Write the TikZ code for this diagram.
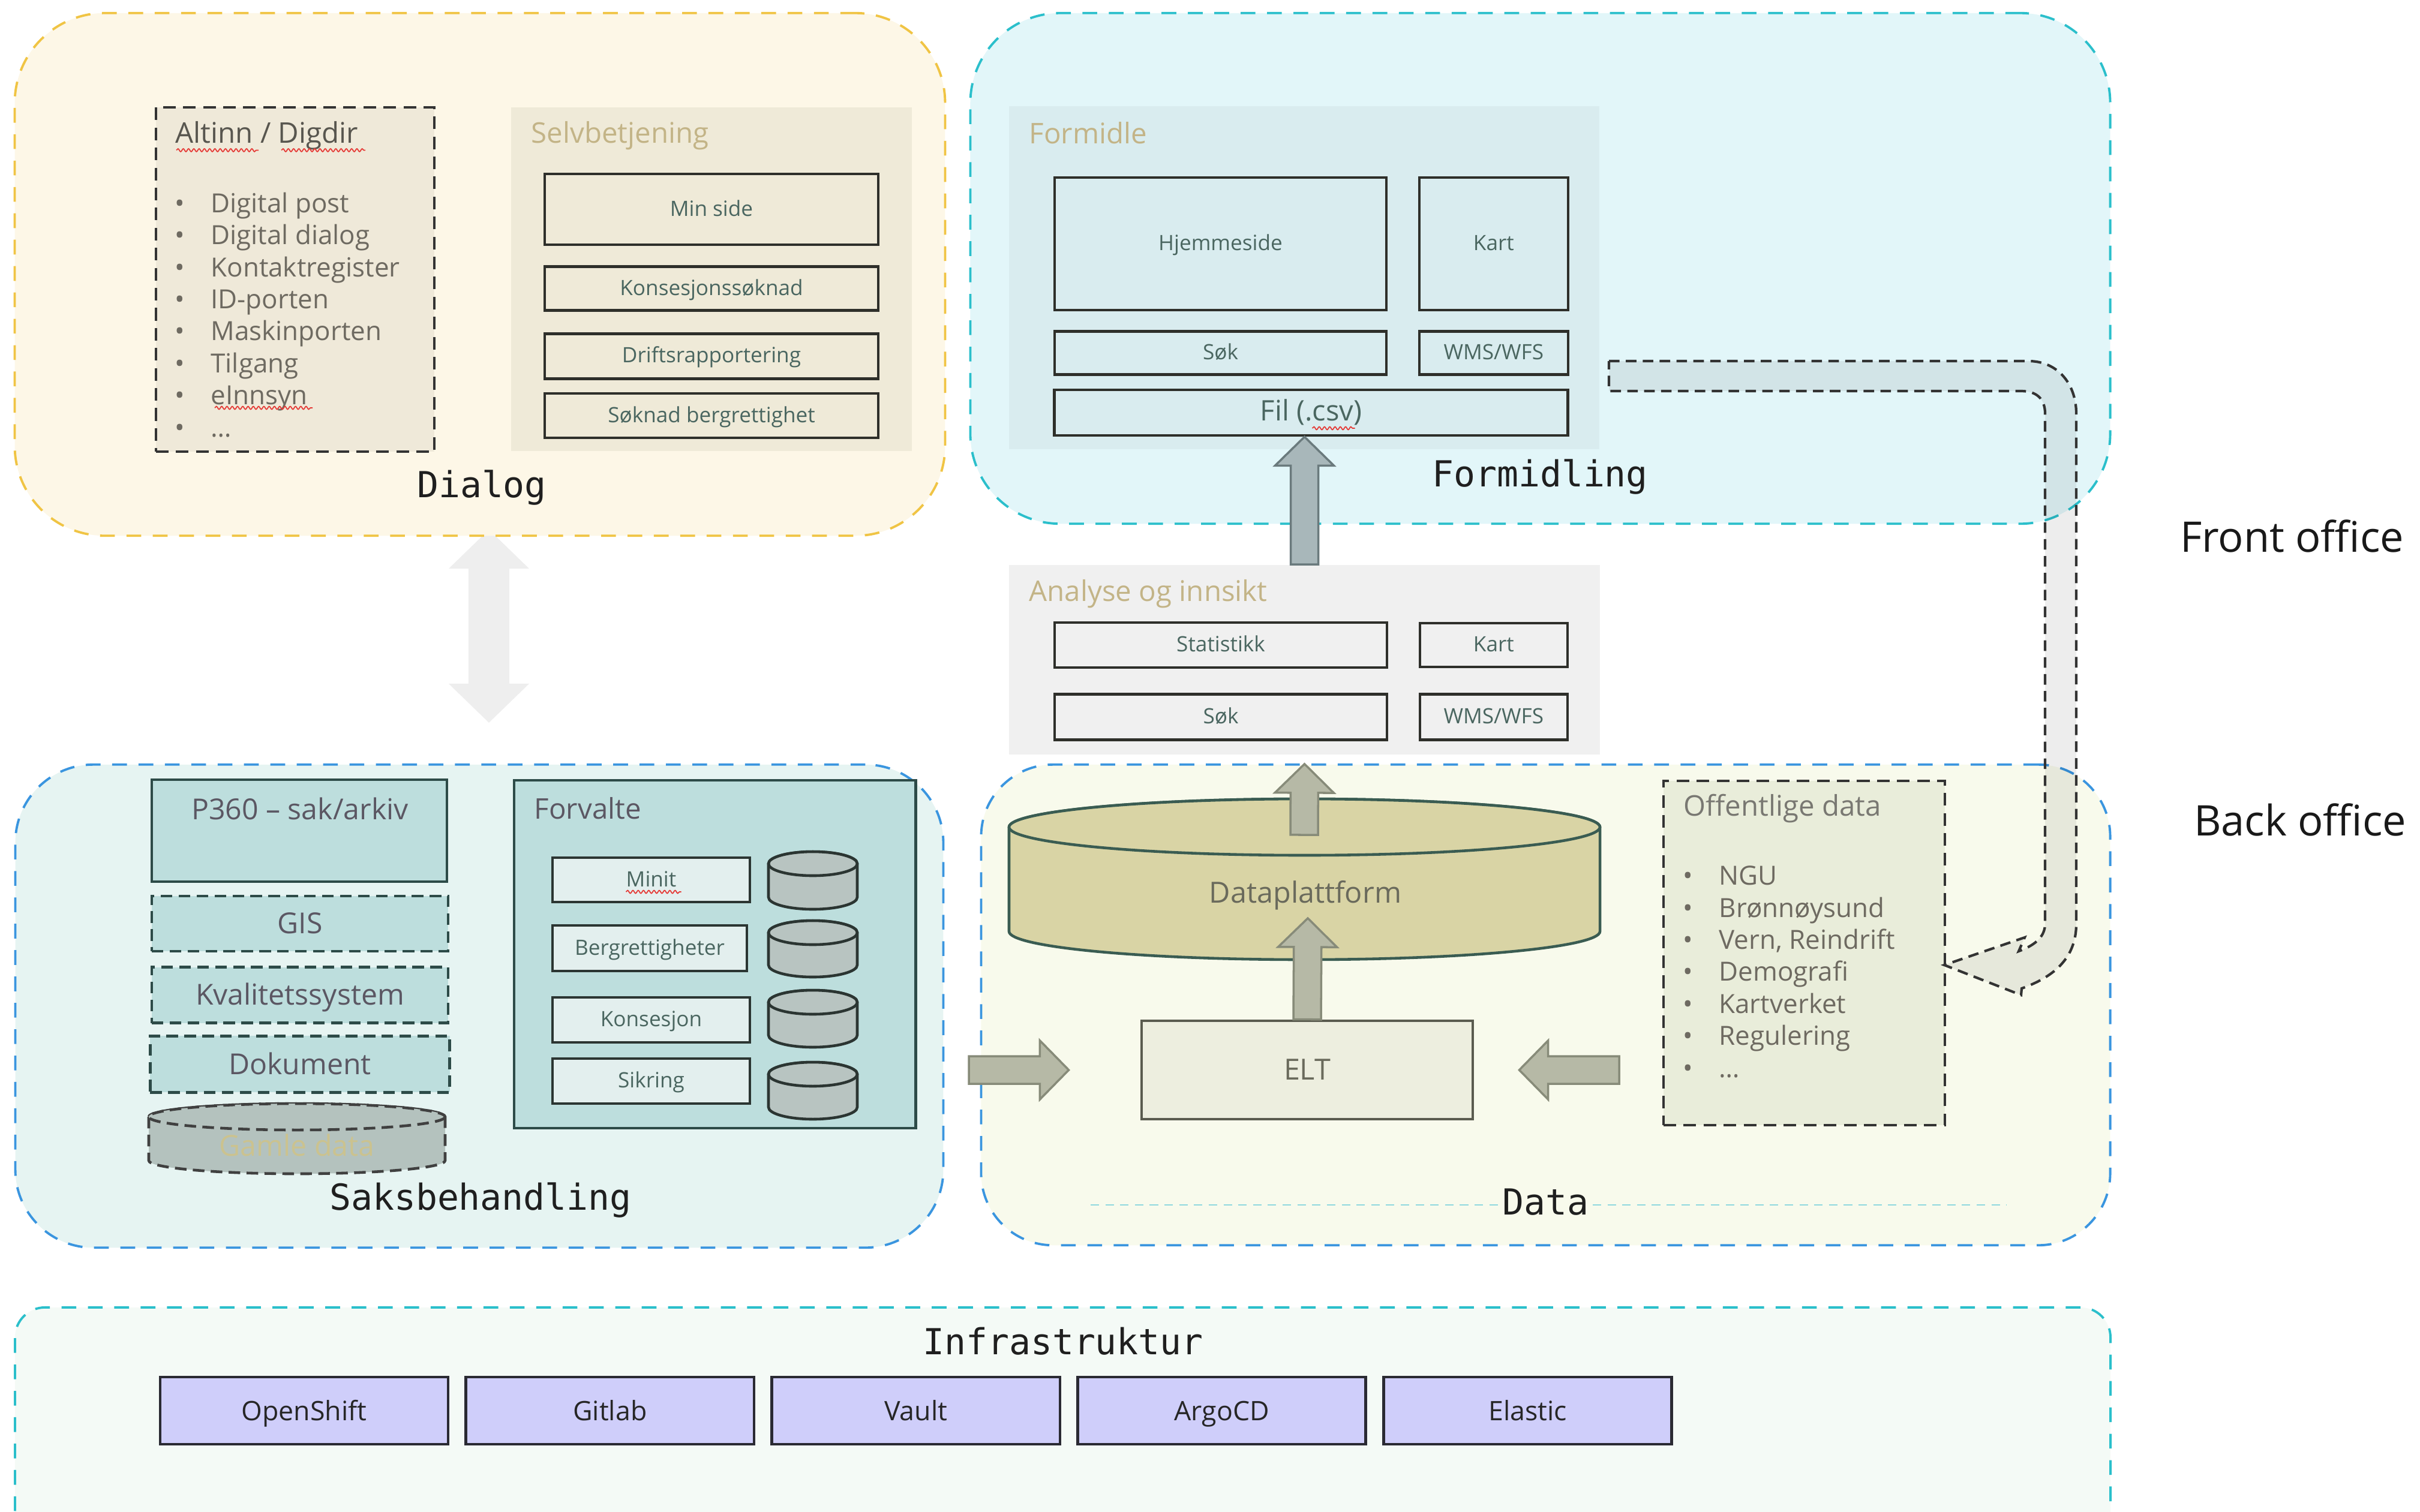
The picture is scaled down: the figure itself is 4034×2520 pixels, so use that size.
\documentclass[tikz,border=0pt]{standalone}
\usepackage{fontspec}
\usepackage{xcolor}
\usepackage{tikz}
\usetikzlibrary{calc, positioning, decorations.pathmorphing}
\setmainfont{Open Sans}
\newfontfamily\labelfont{DejaVu Sans Mono}

\definecolor{dialogfill}{HTML}{FDF7E7}
\definecolor{dialogline}{HTML}{F0C444}
\definecolor{formfill}{HTML}{E2F6F9}
\definecolor{cyanline}{HTML}{2BBFCB}
\definecolor{sakfill}{HTML}{E6F4F2}
\definecolor{blueline}{HTML}{3A95DF}
\definecolor{datafill}{HTML}{F8FAEC}
\definecolor{infrafill}{HTML}{F4FAF6}
\definecolor{beigefill}{HTML}{EFE9D9}
\definecolor{selvfill}{HTML}{EFEAD8}
\definecolor{formidlefill}{HTML}{D9ECEF}
\definecolor{analysefill}{HTML}{F0F0F0}
\definecolor{tealfill}{HTML}{BDDEDD}
\definecolor{tealline}{HTML}{2D4B48}
\definecolor{forvfill}{HTML}{E3EFEE}
\definecolor{dbfill}{HTML}{B8C4C1}
\definecolor{dbline}{HTML}{2B3532}
\definecolor{gamlefill}{HTML}{B4C2BE}
\definecolor{gamletext}{HTML}{CBC28F}
\definecolor{dpfill}{HTML}{D9D4A5}
\definecolor{dpline}{HTML}{3A5C52}
\definecolor{eltfill}{HTML}{EDEEDF}
\definecolor{eltline}{HTML}{5A5B4F}
\definecolor{pubfill}{HTML}{E9EDDA}
\definecolor{infraboxfill}{HTML}{CFCEFA}
\definecolor{infraline}{HTML}{2A2A33}
\definecolor{boxline}{HTML}{2E2F2A}
\definecolor{boxtext}{HTML}{4A6660}
\definecolor{listtext}{HTML}{6E6A61}
\definecolor{titlegrey}{HTML}{58564F}
\definecolor{tantext}{HTML}{C3B487}
\definecolor{saktext}{HTML}{5B5763}
\definecolor{dptext}{HTML}{6A6A5C}
\definecolor{spellred}{HTML}{E53935}
\definecolor{arrowfill}{HTML}{B6B9A6}
\definecolor{arrowline}{HTML}{878B79}
\definecolor{formarrowfill}{HTML}{A8B7BA}
\definecolor{formarrowline}{HTML}{6A7A7D}
\definecolor{ghostgrey}{HTML}{EEEEEE}
\definecolor{dataline}{HTML}{8FD8DE}

\newcommand{\bitem}[1]{\makebox[17pt][l]{\textbullet}#1}

\begin{document}
\begin{tikzpicture}[x=0.01cm, y=-0.01cm, node distance=0.3cm,
    region/.style={rectangle, rounded corners=1.4cm, line width=1.1pt, dash pattern=on 7pt off 5.5pt, inner sep=0pt},
    zone label/.style={font=\labelfont\fontsize{17}{20}\selectfont, text=black!88, inner sep=1pt},
    office label/.style={anchor=east, font=\fontsize{20}{24}\selectfont, text=black!90, inner sep=0pt},
    panel/.style={rectangle, inner sep=0pt},
    panel title/.style={anchor=west, inner sep=0pt, font=\fontsize{13.5}{16}\selectfont},
    plain box/.style={draw=boxline, line width=1.3pt, inner sep=0pt, text=boxtext, font=\fontsize{10}{12}\selectfont, text height=0.68em, text depth=0.05em},
    list box/.style={draw=black!80, line width=1.3pt, dash pattern=on 6pt off 3.5pt, inner sep=0pt},
    item list/.style={anchor=north west, align=left, inner sep=0pt, text=listtext, font=\fontsize{12.5}{15.2}\selectfont},
    teal box/.style={draw=tealline, fill=tealfill, line width=1.3pt, inner sep=0pt, text=saktext, font=\fontsize{13.7}{16}\selectfont},
    teal dashed/.style={teal box, dash pattern=on 5.5pt off 3pt, text height=1em, text depth=0.05em},
    forv box/.style={draw=dbline, fill=forvfill, line width=1.3pt, inner sep=0pt, text=boxtext, font=\fontsize{10}{12}\selectfont, text height=0.68em, text depth=0.05em},
    infra box/.style={draw=infraline, fill=infraboxfill, line width=1.3pt, inner sep=0pt, minimum width=4.8cm, minimum height=1.12cm, text=black!85, font=\fontsize{12.7}{15}\selectfont, text height=1em, text depth=0.05em},
    spell/.style={draw=spellred, line width=0.5pt, decorate, decoration={snake, segment length=2.5pt, amplitude=0.7pt}},
    blockarrow/.style n args={3}{to path={
      ($(\tikztostart)!#1!-90:(\tikztotarget)$)
      -- ($(\tikztotarget)!#3!(\tikztostart)!#1!-90:(\tikztotarget)$)
      -- ($(\tikztotarget)!#3!(\tikztostart)!#2!-90:(\tikztotarget)$)
      -- (\tikztotarget)
      -- ($(\tikztotarget)!#3!(\tikztostart)!#2!90:(\tikztotarget)$)
      -- ($(\tikztotarget)!#3!(\tikztostart)!#1!90:(\tikztotarget)$)
      -- ($(\tikztostart)!#1!90:(\tikztotarget)$) -- cycle}},
    flow arrow/.style={draw=arrowline, fill=arrowfill, line width=1pt, blockarrow={0.23cm}{0.49cm}{0.48cm}},
    ghost arrow/.style={fill=ghostgrey, blockarrow={0.34cm}{0.67cm}{0.65cm}},
    band/.style={draw=black!80, fill=black, fill opacity=0.07, draw opacity=1, line width=1.2pt, dash pattern=on 5pt off 3pt},
    pics/dbcyl/.style n args={3}{code={
      \path[pic actions] (-#1,{-#2+#3}) -- (-#1,{#2-#3}) arc[start angle=180, end angle=0, x radius=#1, y radius=#3]
        -- (#1,{-#2+#3}) arc[start angle=0, end angle=-180, x radius=#1, y radius=#3] -- cycle;
      \path[pic actions] (0,{-#2+#3}) ellipse[x radius=#1, y radius=#3];
    }}]

  \path[use as bounding box, clip] (0,0) rectangle (4034,2520);

  \coordinate (dlgmid) at (815,1044);
  \coordinate (dlgtip) at (815,883);
  \coordinate (saktip) at (815,1205);
  \fill[ghost arrow] (dlgmid) to (dlgtip) (dlgmid) to (saktip);

  \node[region, fill=dialogfill, draw=dialogline, rounded corners=1.5cm, minimum width=15.5cm, minimum height=8.71cm] (dialog) at (800,457.5) {};
  \node[region, fill=formfill, draw=cyanline, rounded corners=1.5cm, minimum width=18.99cm, minimum height=8.51cm] (formidling) at (2567.5,447.5) {};
  \node[region, fill=sakfill, draw=blueline, rounded corners=1.3cm, minimum width=15.46cm, minimum height=8.05cm] (sak) at (799,1677.5) {};
  \node[region, fill=datafill, draw=blueline, rounded corners=1.2cm, minimum width=18.81cm, minimum height=8.01cm] (data) at (2576.5,1675.5) {};
  \node[region, fill=infrafill, draw=cyanline, rounded corners=0.5cm, minimum width=34.91cm, minimum height=4.4cm] (infra) at (1771.5,2400) {};

  \node[list box, fill=beigefill, minimum width=4.64cm, minimum height=5.74cm] (altinn) at (492,466) {};
  \node[panel title, text=titlegrey] (altinnT) at (292,226) {Altinn / Digdir};
  \node[item list] (altinnL) at (291,320) {\bitem{Digital post}\\\bitem{Digital dialog}\\\bitem{Kontaktregister}\\\bitem{ID-porten}\\\bitem{Maskinporten}\\\bitem{Tilgang}\\\bitem{eInnsyn}\\\bitem{…}};
  \path[spell] ([xshift=0.02cm]altinnT.south west) -- ++(137,0);
  \path[spell] ([xshift=1.77cm]altinnT.south west) -- ++(140,0);
  \path[spell] ([shift={(67,360)}]altinnL.north west) -- ++(163,0);

  \node[panel, fill=selvfill, minimum width=6.68cm, minimum height=5.73cm] (selv) at (1186,465.5) {};
  \node[panel title, text=tantext] (selvT) at (885,226) {Selvbetjening};
  \node[plain box, minimum width=5.56cm, minimum height=1.18cm] (minside) at (1186,349) {Min side};
  \node[plain box, minimum width=5.56cm, minimum height=0.73cm, below=0.32cm of minside] (konsoknad) {Konsesjonssøknad};
  \node[plain box, minimum width=5.56cm, minimum height=0.75cm, below=0.34cm of konsoknad] (drift) {Driftsrapportering};
  \node[plain box, minimum width=5.56cm, minimum height=0.74cm, below=0.2cm of drift] (bergsoknad) {Søknad bergrettighet};
  \node[zone label] (dialogT) at (803,813) {Dialog};

  \node[panel, fill=formidlefill, minimum width=9.84cm, minimum height=5.72cm] (formidle) at (2174,463) {};
  \node[panel title, text=tantext] (formidleT) at (1715,222) {Formidle};
  \node[plain box, minimum width=5.53cm, minimum height=2.21cm] (hjem) at (2034.5,406.5) {Hjemmeside};
  \node[plain box, minimum width=2.48cm, minimum height=2.21cm, right=0.5cm of hjem] (kart1) {Kart};
  \node[plain box, minimum width=5.53cm, minimum height=0.72cm, below=0.31cm of hjem] (sok1) {Søk};
  \node[plain box, minimum width=2.48cm, minimum height=0.72cm, right=0.5cm of sok1] (wms1) {WMS/WFS};
  \node[plain box, minimum width=8.55cm, minimum height=0.76cm, font=\fontsize{13.4}{16}\selectfont, text height=0.8em] (fil) at (2185.5,688) {Fil (.csv)};
  \path[spell] ([shift={(2,26)}]fil.center) -- ++(71,0);
  \node[zone label] (formidlingT) at (2567,795) {Formidling};

  \node[panel, fill=analysefill, minimum width=9.85cm, minimum height=3.16cm] (analyse) at (2174.5,1100) {};
  \node[panel title, text=tantext] (analyseT) at (1715,990) {Analyse og innsikt};
  \node[plain box, minimum width=5.54cm, minimum height=0.75cm] (stat) at (2035,1075.5) {Statistikk};
  \node[plain box, minimum width=2.46cm, minimum height=0.73cm, right=0.5cm of stat] (kart2) {Kart};
  \node[plain box, minimum width=5.54cm, minimum height=0.76cm, below=0.4cm of stat] (sok2) {Søk};
  \node[plain box, minimum width=2.46cm, minimum height=0.76cm, right=0.5cm of sok2] (wms2) {WMS/WFS};

  \node[teal box, minimum width=4.92cm, minimum height=1.70cm] (p360) at (499,1385) {};
  \node[text=saktext, font=\fontsize{13.7}{16}\selectfont, inner sep=0pt] (p360T) at (500,1348) {P360 – sak/arkiv};
  \node[teal dashed, minimum width=4.94cm, minimum height=0.92cm] (gis) at (500,1540) {GIS};
  \node[teal dashed, minimum width=4.94cm, minimum height=0.93cm, below=0.22cm of gis] (kval) {Kvalitetssystem};
  \node[teal dashed, minimum width=4.99cm, minimum height=0.94cm, below=0.17cm of kval] (dok) {Dokument};
  \pic[draw=black!75, fill=gamlefill, line width=1.3pt, dash pattern=on 5.5pt off 3pt] at (495,1898.5) {dbcyl={247}{58.5}{22}};
  \node[text=gamletext, font=\fontsize{13.7}{16}\selectfont] (gamle) at (495,1909) {Gamle data};

  \node[teal box, minimum width=6.69cm, minimum height=5.80cm] (forvalte) at (1191.5,1591) {};
  \node[panel title, text=saktext] (forvalteT) at (890,1348) {Forvalte};
  \node[forv box, minimum width=3.29cm, minimum height=0.74cm] (minit) at (1085.5,1467) {Minit};
  \node[forv box, minimum width=3.24cm, minimum height=0.76cm] (berg) at (1083,1581) {Bergrettigheter};
  \node[forv box, minimum width=3.29cm, minimum height=0.75cm] (kons) at (1085.5,1700.5) {Konsesjon};
  \node[forv box, minimum width=3.29cm, minimum height=0.75cm] (sikring) at (1085.5,1802.5) {Sikring};
  \path[spell] ([shift={(-42,20)}]minit.center) -- ++(92,0);
  \pic[draw=dbline, fill=dbfill, line width=1.3pt] at (1355,1468) {dbcyl={74}{48}{20}};
  \pic[draw=dbline, fill=dbfill, line width=1.3pt] at (1355,1582) {dbcyl={74}{47}{20}};
  \pic[draw=dbline, fill=dbfill, line width=1.3pt] at (1355,1698.5) {dbcyl={74}{47.5}{20}};
  \pic[draw=dbline, fill=dbfill, line width=1.3pt] at (1355,1818.5) {dbcyl={74}{47.5}{20}};
  \node[zone label] (sakT) at (801,2001) {Saksbehandling};

  \pic[draw=dpline, fill=dpfill, line width=1.3pt] at (2174.5,1466) {dbcyl={492.5}{134}{47}};
  \node[text=dptext, font=\fontsize{13.8}{16}\selectfont] (dp) at (2176,1493) {Dataplattform};
  \node[plain box, draw=eltline, fill=eltfill, text=dptext, font=\fontsize{13.8}{16}\selectfont, text height=1em, minimum width=5.52cm, minimum height=1.64cm] (elt) at (2179,1784) {ELT};

  \node[list box, fill=pubfill, minimum width=4.69cm, minimum height=5.74cm] (offentlig) at (3007.5,1589) {};
  \node[panel title, text=titlegrey!80] (offentligT) at (2806,1348) {Offentlige data};
  \node[item list] (offentligL) at (2805,1443) {\bitem{NGU}\\\bitem{Brønnøysund}\\\bitem{Vern, Reindrift}\\\bitem{Demografi}\\\bitem{Kartverket}\\\bitem{Regulering}\\\bitem{…}};

  \draw[dataline, line width=0.8pt, dash pattern=on 4pt off 3pt] (1818,2009) -- (3345,2009);
  \node[zone label, fill=datafill] (dataT) at (2576,2004) {Data};

  \coordinate (dpout) at (2174,1392);
  \coordinate (dpin) at (2180,1531);
  \coordinate (sakout) at (1615,1784);
  \coordinate (pubout) at (2699,1784);
  \draw[flow arrow, draw=formarrowline, fill=formarrowfill] (analyse.north) to (analyse.north |- fil.south);
  \draw[flow arrow] (dpout) to ([yshift=-0.15cm]analyse.south);
  \draw[flow arrow] (elt.north) to (dpin);
  \draw[flow arrow] (sakout) to ([xshift=-1.19cm]elt.west);
  \draw[flow arrow] (pubout) to ([xshift=0.75cm]elt.east);

  \draw[band] (2682,602) -- (3381,602) .. controls (3430,602) and (3461,640) .. (3461,690) -- (3461,1540)
    .. controls (3461,1600) and (3420,1630) .. (3370,1648) -- (3369,1659) -- (3241,1609) -- (3375,1563) -- (3365,1586)
    .. controls (3395,1575) and (3409,1560) .. (3409,1540) -- (3409,690) .. controls (3409,665) and (3395,652) .. (3369,652)
    -- (2682,652) -- cycle;

  \node[zone label] (infraT) at (1772,2236) {Infrastruktur};
  \node[infra box] (openshift) at (507,2352) {OpenShift};
  \node[infra box, right=0.25cm of openshift] (gitlab) {Gitlab};
  \node[infra box, right=0.25cm of gitlab] (vault) {Vault};
  \node[infra box, right=0.25cm of vault] (argocd) {ArgoCD};
  \node[infra box, right=0.25cm of argocd] (elastic) {Elastic};

  \node[office label] (front) at (4008,894) {Front office};
  \node[office label] (back) at (4012,1367) {Back office};

\end{tikzpicture}
\end{document}
